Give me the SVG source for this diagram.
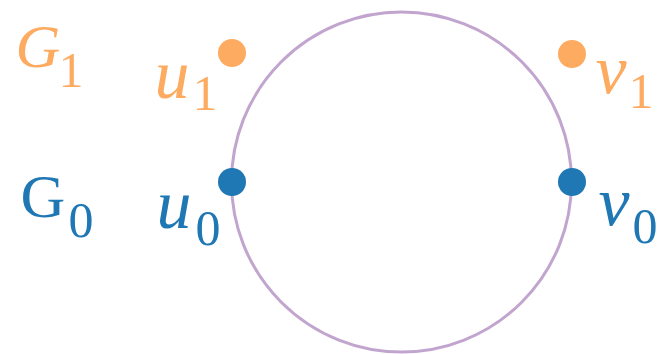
<svg xmlns="http://www.w3.org/2000/svg" width="661" height="354" viewBox="0 0 661 354">
<style>
text{font-family:"Liberation Serif","DejaVu Serif",serif;text-anchor:middle}
.i{font-style:italic}
.o{fill:#fdab61}
.b{fill:#1f77b4}
.g{font-size:62px}
.m{font-size:70px}
.s{font-size:50px}
</style>
<rect width="661" height="354" fill="#fff"/>
<g id="connectors">
<circle cx="401.5" cy="182" r="170" fill="none" stroke="#c2a5cf" stroke-width="3"/>
</g>
<g id="G1"><text class="o i g" x="38" y="67">G</text><text class="o s" x="71" y="87">1</text></g>
<g id="G0"><text class="b g" x="43" y="217">G</text><text class="b s" x="81" y="237">0</text></g>
<g id="u1"><circle class="o" cx="232" cy="53" r="14"/><text class="o i m" x="172" y="98">u</text><text class="o s" x="205" y="110">1</text></g>
<g id="v1"><circle class="o" cx="572" cy="54" r="14"/><text class="o i m" x="611" y="93">v</text><text class="o s" x="641" y="108">1</text></g>
<g id="u0"><circle class="b" cx="232" cy="182" r="14"/><text class="b i m" x="174" y="228">u</text><text class="b s" x="208" y="245">0</text></g>
<g id="v0"><circle class="b" cx="572" cy="182" r="14"/><text class="b i m" x="614" y="225">v</text><text class="b s" x="645" y="243">0</text></g>
</svg>
